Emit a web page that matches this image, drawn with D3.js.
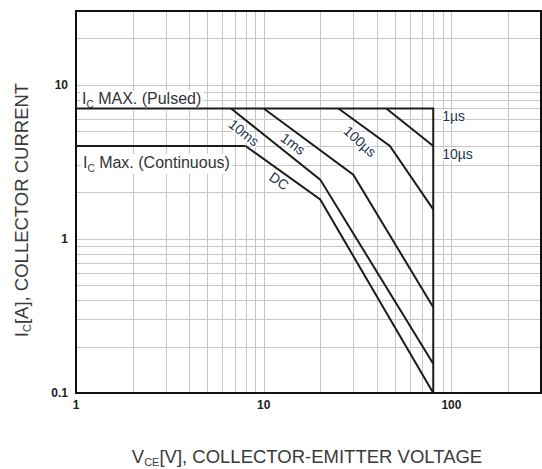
<!DOCTYPE html>
<html>
<head>
<meta charset="utf-8">
<script src="https://cdn.jsdelivr.net/npm/d3@7"></script>
<style>
  body { margin: 0; background: #fff; }
  svg { display: block; font-family: Arial, "Liberation Sans", Helvetica, sans-serif; }
  .grid line { stroke: #c6c6c6; stroke-width: 1; }
  .curve { fill: none; stroke: #1c1c1c; stroke-width: 2; stroke-linejoin: miter; }
  .tick-label { font-size: 12px; font-weight: bold; fill: #222; }
  .curve-label { font-size: 14px; fill: #263350; paint-order: stroke; stroke: #fff; stroke-width: 3px; }
  .limit-label { font-size: 16px; fill: #333; }
  .axis-title { font-size: 18.5px; fill: #3a3a3a; }
</style>
</head>
<body>
<svg id="chart" width="542" height="469"></svg>
<script>
// axis values
var xDomain = [1, 300];
var yDomain = [0.1, 30];
var xTickValues = [1, 10, 100];
var yTickValues = [0.1, 1, 10];
var xTickLabels = ['1', '10', '100'];
var yTickLabels = ['0.1', '1', '10'];

// safe operating area curves, [VCE (V), IC (A)]
var pulsedLimit = [[1, 7], [80, 7], [80, 0.1]];
var continuousLimit = [[1, 4], [8, 4]];
var curveDC = [[8, 4], [20, 1.8], [80, 0.1]];
var curve10ms = [[6.7, 7], [20, 2.42], [80, 0.155]];
var curve1ms = [[10, 7], [30, 2.6], [80, 0.36]];
var curve100us = [[25, 7], [47, 4], [80, 1.55]];
var curve10us = [[45, 7], [80, 4]];

var margin = { left: 76, top: 11, right: 1, bottom: 76 };
var width = 542, height = 469;

var svg = d3.select('#chart');

var x = d3.scaleLog().domain(xDomain).range([margin.left, width - margin.right]);
var y = d3.scaleLog().domain(yDomain).range([height - margin.bottom, margin.top]);

// grid: 1..9 per decade
function gridValues(domain) {
    var out = [];
    for (var e = -1; e <= 3; e++) {
        for (var m = 1; m <= 9; m++) {
            var v = +(m * Math.pow(10, e)).toPrecision(3);
            if (v > domain[0] && v < domain[1]) out.push(v);
        }
    }
    return out;
}

var grid = svg.append('g').attr('class', 'grid');
grid.selectAll('line.v')
    .data(gridValues(xDomain))
    .enter().append('line')
    .attr('class', 'v')
    .attr('x1', function (d) { return Math.round(x(d)) + 0.5; })
    .attr('x2', function (d) { return Math.round(x(d)) + 0.5; })
    .attr('y1', y.range()[1])
    .attr('y2', y.range()[0]);
grid.selectAll('line.h')
    .data(gridValues(yDomain))
    .enter().append('line')
    .attr('class', 'h')
    .attr('y1', function (d) { return Math.round(y(d)) + 0.5; })
    .attr('y2', function (d) { return Math.round(y(d)) + 0.5; })
    .attr('x1', x.range()[0])
    .attr('x2', x.range()[1]);

// current limit labels with white background (under the curves)
function limitLabel(main, rest, px, py) {
    var g = svg.append('g');
    var bg = g.append('rect').attr('fill', '#fff');
    var t = g.append('text')
        .attr('class', 'limit-label')
        .attr('x', px)
        .attr('y', py);
    t.append('tspan').text(main);
    t.append('tspan').attr('font-size', '10px').attr('dy', 4).text('C');
    t.append('tspan').attr('dy', -4).text(rest);
    var b = t.node().getBBox();
    bg.attr('x', b.x - 2).attr('y', b.y).attr('width', b.width + 4).attr('height', b.height);
}
limitLabel('I', ' MAX. (Pulsed)', x(1) + 6, y(7) - 4);
limitLabel('I', ' Max. (Continuous)', x(1) + 7, y(4) + 22);

// frame
svg.append('rect')
    .attr('x', x.range()[0])
    .attr('y', y.range()[1])
    .attr('width', x.range()[1] - x.range()[0])
    .attr('height', y.range()[0] - y.range()[1])
    .attr('fill', 'none')
    .attr('stroke', '#111')
    .attr('stroke-width', 2);

// tick labels
svg.append('g').selectAll('text')
    .data(xTickValues)
    .enter().append('text')
    .attr('class', 'tick-label')
    .attr('x', function (d) { return x(d); })
    .attr('y', y(yDomain[0]) + 16)
    .attr('text-anchor', 'middle')
    .text(function (d, i) { return xTickLabels[i]; });

svg.append('g').selectAll('text')
    .data(yTickValues)
    .enter().append('text')
    .attr('class', 'tick-label')
    .attr('x', x(xDomain[0]) - 8)
    .attr('y', function (d) { return y(d) + 4; })
    .attr('text-anchor', 'end')
    .text(function (d, i) { return yTickLabels[i]; });

// curves
var line = d3.line()
    .x(function (d) { return x(d[0]); })
    .y(function (d) { return y(d[1]); });

var curves = [pulsedLimit, continuousLimit, curveDC, curve10ms, curve1ms, curve100us, curve10us];
svg.append('g').selectAll('path')
    .data(curves)
    .enter().append('path')
    .attr('class', 'curve')
    .attr('d', line);

// labels sitting below the first segment of each curve
var curveLabels = [
    { name: '10ms', curve: curve10ms, t: 0.22, off: 11 },
    { name: '1ms', curve: curve1ms, t: 0.4, off: 11 },
    { name: '100\u00b5s', curve: curve100us, t: 0.58, off: 14, extra: 6 },
    { name: 'DC', curve: curveDC, t: 0.52, off: 9 }
];

curveLabels.forEach(function (lb) {
    var p0 = [x(lb.curve[0][0]), y(lb.curve[0][1])];
    var p1 = [x(lb.curve[1][0]), y(lb.curve[1][1])];
    var dx = p1[0] - p0[0], dy = p1[1] - p0[1];
    var len = Math.sqrt(dx * dx + dy * dy);
    var ux = dx / len, uy = dy / len;
    var cx = p0[0] + dx * lb.t - uy * lb.off;
    var cy = p0[1] + dy * lb.t + ux * lb.off;
    var ang = Math.atan2(dy, dx) * 180 / Math.PI + (lb.extra || 0);
    svg.append('text')
        .attr('class', 'curve-label')
        .attr('transform', 'translate(' + cx + ',' + cy + ') rotate(' + ang + ')')
        .attr('text-anchor', 'middle')
        .attr('dy', '0.35em')
        .text(lb.name);
});

// pulse width labels at the right of the 80 V limit
var endLabels = [
    { name: '1\u00b5s', point: pulsedLimit[1] },
    { name: '10\u00b5s', point: curve10us[1] }
];
svg.append('g').selectAll('text')
    .data(endLabels)
    .enter().append('text')
    .attr('class', 'curve-label')
    .attr('x', function (d) { return x(d.point[0]) + 9; })
    .attr('y', function (d) { return y(d.point[1]) + 13; })
    .text(function (d) { return d.name; });

// axis titles
var xt = svg.append('text')
    .attr('class', 'axis-title')
    .attr('x', 307)
    .attr('y', 463)
    .attr('text-anchor', 'middle');
xt.append('tspan').text('V');
xt.append('tspan').attr('font-size', '11px').attr('dy', 3).text('CE');
xt.append('tspan').attr('dy', -3).text('[V], COLLECTOR-EMITTER VOLTAGE');

var yt = svg.append('text')
    .attr('class', 'axis-title')
    .attr('transform', 'translate(28,210) rotate(-90)')
    .attr('text-anchor', 'middle');
yt.append('tspan').text('I');
yt.append('tspan').attr('font-size', '11px').attr('dy', 3).text('C');
yt.append('tspan').attr('dy', -3).text('[A], COLLECTOR CURRENT');
</script>
</body>
</html>
